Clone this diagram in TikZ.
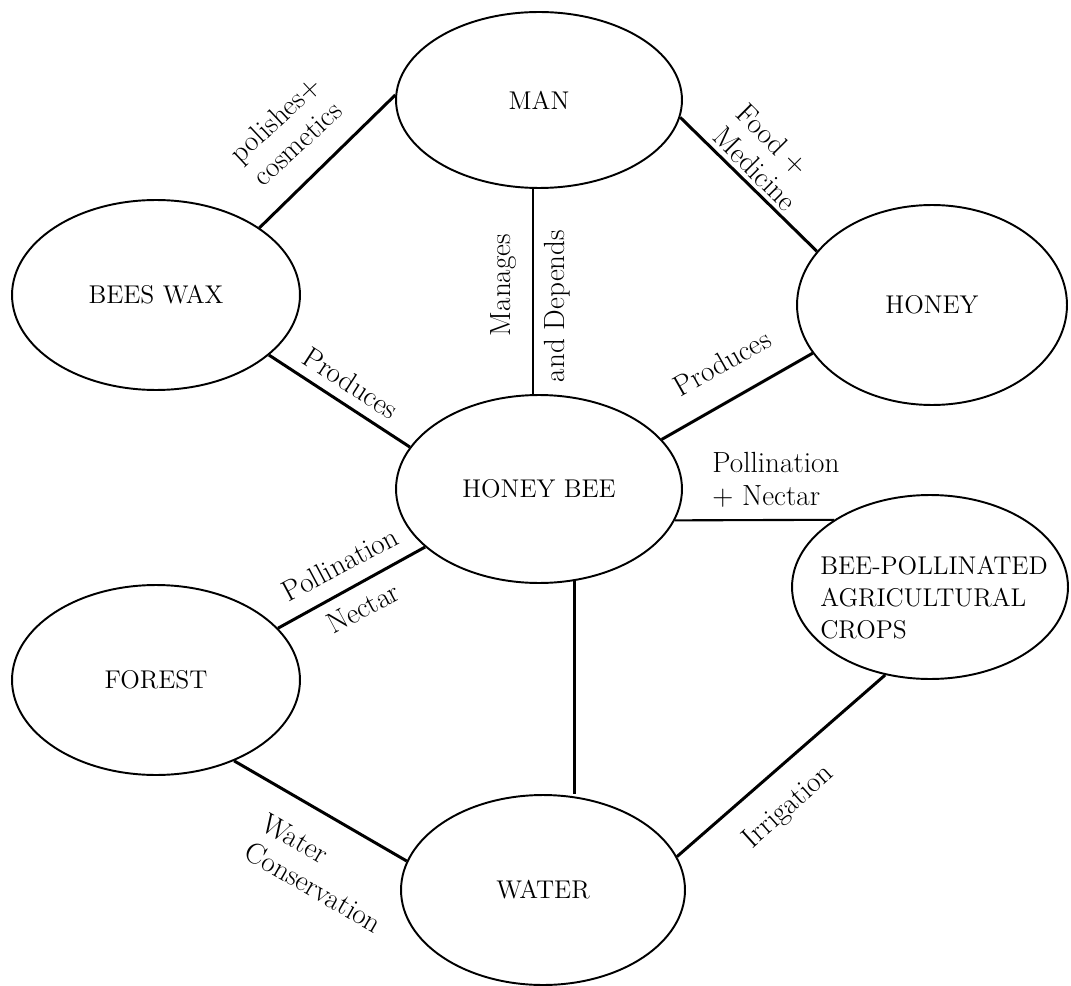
\documentclass[tikz,border=0pt]{standalone}
\usetikzlibrary{shapes.geometric}
\newcommand\myNodeFont{\fontsize{14.6}{18.2}\selectfont}
\newcommand\myLabFont{\fontsize{16.6}{18.8}\selectfont}
\begin{document}
\begin{tikzpicture}[x=0.02cm,y=-0.02cm,
  el/.style={draw, ellipse, line width=1.1pt, inner sep=0pt, font=\myNodeFont},
  conn/.style={line width=1.7pt},
  thinconn/.style={line width=1.2pt},
  lab/.style={inner sep=0pt, font=\myLabFont}]
\useasboundingbox (0,0) rectangle (1071,986);
% ellipses
\node[el, minimum width=5.72cm, minimum height=3.52cm] (man) at (539,100) {MAN};
\node[el, minimum width=5.76cm, minimum height=3.8cm] (wax) at (156,295) {BEES WAX};
\node[el, minimum width=5.4cm, minimum height=4.0cm] (honey) at (932,305) {HONEY};
\node[el, minimum width=5.72cm, minimum height=3.76cm] (hb) at (539,489) {HONEY BEE};
\node[el, minimum width=5.52cm, minimum height=3.68cm] (bp) at (930,587) {};
\node[inner sep=0pt, font=\myNodeFont, align=left] (bptext) at (934,598) {BEE-POLLINATED\\AGRICULTURAL\\CROPS};
\node[el, minimum width=5.76cm, minimum height=3.8cm] (forest) at (156,680) {FOREST};
\node[el, minimum width=5.68cm, minimum height=3.8cm] (water) at (543,890) {WATER};
% connectors
\draw[conn] (wax.33.7) -- (man.178);
\draw[conn] (man.-7.3) -- (honey.155.6);
\draw[thinconn] (man.-94) -- (man.-94 |- hb.north);
\draw[conn] (wax.-28.9) -- (hb.162.2);
\draw[conn] (hb.22) -- (honey.202.7);
\draw[thinconn] (hb.-13) -- (bp.145);
\draw[conn] (hb.207) -- (forest.23.7);
\draw[conn] (hb.-69.6) -- (hb.-69.6 |- water.north);
\draw[conn] (forest.-46) -- (water.168.8);
\draw[conn] (water.14.8) -- (bp.243);
% labels
\node[lab, rotate=43, align=center] (lpc) at (286,131) {polishes+\\cosmetics};
\node[lab, rotate=-45, align=left] (lfm) at (767,157) {Food +\\Medicine};
\node[lab, rotate=90] (lman) at (504,285) {Manages};
\node[lab, rotate=90] (ldep) at (557,306) {and Depends};
\node[lab, rotate=-33] (lpr1) at (351,383) {Produces};
\node[lab, rotate=29.5] (lpr2) at (722,363) {Produces};
\node[lab, align=left, anchor=west] (lpn) at (712,480) {Pollination\\+ Nectar};
\node[lab, rotate=28] (lpol) at (340,564) {Pollination};
\node[lab, rotate=28] (lnec) at (363,608) {Nectar};
\node[lab, rotate=-30, align=left] (lwc) at (322,873) {Water\\Conservation};
\node[lab, rotate=42] (lirr) at (789,807) {Irrigation};
\end{tikzpicture}
\end{document}
